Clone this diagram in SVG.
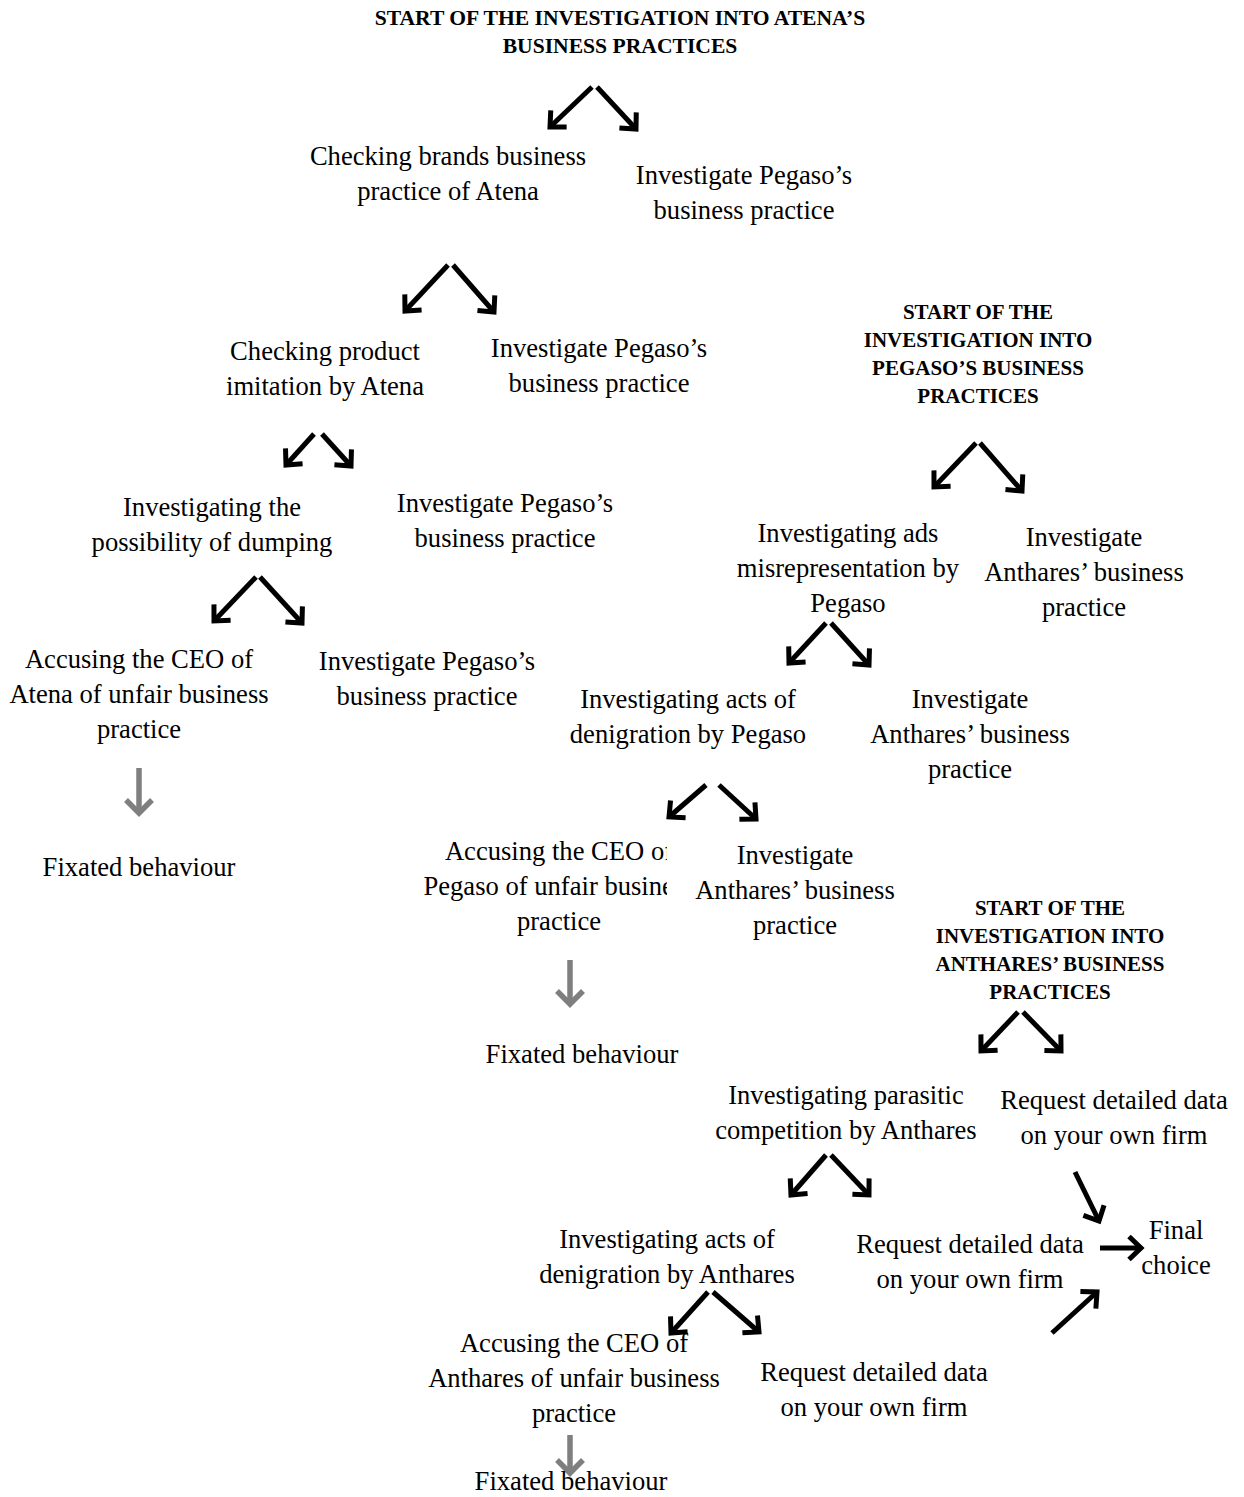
<svg xmlns="http://www.w3.org/2000/svg" width="1244" height="1497" viewBox="0 0 1244 1497">
<style>
text{font-family:"Liberation Serif","Times New Roman",serif;fill:#000;text-anchor:middle}
.t{font-size:26.6px}
.h{font-size:21px;font-weight:bold}
.a{stroke:#000;stroke-width:5;fill:none;stroke-linecap:butt}
.g{stroke:#7f7f7f;stroke-width:5.5;fill:none}
</style>
<defs>
<marker id="ah" markerUnits="userSpaceOnUse" markerWidth="30" markerHeight="30" refX="15" refY="15" orient="auto" viewBox="0 0 30 30">
<path d="M3,3.5 L15,15 L3,26.5" stroke="#000" stroke-width="5" fill="none" stroke-linejoin="miter"/>
</marker>
<marker id="ahg" markerUnits="userSpaceOnUse" markerWidth="30" markerHeight="30" refX="15" refY="15" orient="auto" viewBox="0 0 30 30">
<path d="M2,2 L15,15 L2,28" stroke="#7f7f7f" stroke-width="5.5" fill="none"/>
</marker>
<clipPath id="clipP"><rect x="0" y="830" width="667" height="110"/></clipPath>
</defs>

<g id="connectors">
<path class="a" marker-end="url(#ah)" d="M592,87 L550,127"/>
<path class="a" marker-end="url(#ah)" d="M597,87 L636,129"/>
<path class="a" marker-end="url(#ah)" d="M448,265 L405,311"/>
<path class="a" marker-end="url(#ah)" d="M453,265 L494,312"/>
<path class="a" marker-end="url(#ah)" d="M314,434 L286,465"/>
<path class="a" marker-end="url(#ah)" d="M322,434 L351,466"/>
<path class="a" marker-end="url(#ah)" d="M256,577 L214,621"/>
<path class="a" marker-end="url(#ah)" d="M260,577 L302,623"/>
<path class="a" marker-end="url(#ah)" d="M976,443 L934,487"/>
<path class="a" marker-end="url(#ah)" d="M980,443 L1022,491"/>
<path class="a" marker-end="url(#ah)" d="M826,623 L789,663"/>
<path class="a" marker-end="url(#ah)" d="M831,623 L869,665"/>
<path class="a" marker-end="url(#ah)" d="M706,785 L669,817"/>
<path class="a" marker-end="url(#ah)" d="M719,785 L756,819"/>
<path class="a" marker-end="url(#ah)" d="M1018,1012 L981,1051"/>
<path class="a" marker-end="url(#ah)" d="M1023,1012 L1061,1051"/>
<path class="a" marker-end="url(#ah)" d="M826,1155 L791,1195"/>
<path class="a" marker-end="url(#ah)" d="M831,1155 L869,1195"/>
<path class="a" marker-end="url(#ah)" d="M708,1292 L671,1333"/>
<path class="a" marker-end="url(#ah)" d="M713,1292 L759,1332"/>
<path class="a" marker-end="url(#ah)" d="M1075,1172 L1099,1221"/>
<path class="a" marker-end="url(#ah)" d="M1100,1248 L1141,1248"/>
<path class="a" marker-end="url(#ah)" d="M1052,1333 L1097,1292"/>
<path class="g" marker-end="url(#ahg)" d="M139,768 L139,813"/>
<path class="g" marker-end="url(#ahg)" d="M570,960 L570,1004"/>
<path class="g" marker-end="url(#ahg)" d="M570,1435 L570,1473"/>
</g>

<g id="n-start-atena"><text class="h" x="620" y="25" style="font-size:21.6px">START OF THE INVESTIGATION INTO ATENA’S</text><text class="h" x="620" y="53" style="font-size:21.6px">BUSINESS PRACTICES</text></g>
<g id="n-brands"><text class="t" x="448" y="165">Checking brands business</text><text class="t" x="448" y="200">practice of Atena</text></g>
<g id="n-peg1"><text class="t" x="744" y="184">Investigate Pegaso’s</text><text class="t" x="744" y="219">business practice</text></g>
<g id="n-imitation"><text class="t" x="325" y="360">Checking product</text><text class="t" x="325" y="395">imitation by Atena</text></g>
<g id="n-peg2"><text class="t" x="599" y="357">Investigate Pegaso’s</text><text class="t" x="599" y="392">business practice</text></g>
<g id="n-start-pegaso"><text class="h" x="978" y="319">START OF THE</text><text class="h" x="978" y="347">INVESTIGATION INTO</text><text class="h" x="978" y="375">PEGASO’S BUSINESS</text><text class="h" x="978" y="403">PRACTICES</text></g>
<g id="n-dumping"><text class="t" x="212" y="516">Investigating the</text><text class="t" x="212" y="551">possibility of dumping</text></g>
<g id="n-peg3"><text class="t" x="505" y="512">Investigate Pegaso’s</text><text class="t" x="505" y="547">business practice</text></g>
<g id="n-ads"><text class="t" x="848" y="542">Investigating ads</text><text class="t" x="848" y="577">misrepresentation by</text><text class="t" x="848" y="612">Pegaso</text></g>
<g id="n-anth1"><text class="t" x="1084" y="546">Investigate</text><text class="t" x="1084" y="581">Anthares’ business</text><text class="t" x="1084" y="616">practice</text></g>
<g id="n-accuse-atena"><text class="t" x="139" y="668">Accusing the CEO of</text><text class="t" x="139" y="703">Atena of unfair business</text><text class="t" x="139" y="738">practice</text></g>
<g id="n-peg4"><text class="t" x="427" y="670">Investigate Pegaso’s</text><text class="t" x="427" y="705">business practice</text></g>
<g id="n-denig-peg"><text class="t" x="688" y="708">Investigating acts of</text><text class="t" x="688" y="743">denigration by Pegaso</text></g>
<g id="n-anth2"><text class="t" x="970" y="708">Investigate</text><text class="t" x="970" y="743">Anthares’ business</text><text class="t" x="970" y="778">practice</text></g>
<g id="n-fix1"><text class="t" x="139" y="876">Fixated behaviour</text></g>
<g id="n-accuse-peg" clip-path="url(#clipP)"><text class="t" x="559" y="860">Accusing the CEO of</text><text class="t" x="559" y="895">Pegaso of unfair business</text><text class="t" x="559" y="930">practice</text></g>
<g id="n-anth3"><text class="t" x="795" y="864">Investigate</text><text class="t" x="795" y="899">Anthares’ business</text><text class="t" x="795" y="934">practice</text></g>
<g id="n-start-anth"><text class="h" x="1050" y="915">START OF THE</text><text class="h" x="1050" y="943">INVESTIGATION INTO</text><text class="h" x="1050" y="971">ANTHARES’ BUSINESS</text><text class="h" x="1050" y="999">PRACTICES</text></g>
<g id="n-fix2"><text class="t" x="582" y="1063">Fixated behaviour</text></g>
<g id="n-parasitic"><text class="t" x="846" y="1104">Investigating parasitic</text><text class="t" x="846" y="1139">competition by Anthares</text></g>
<g id="n-req1"><text class="t" x="1114" y="1109">Request detailed data</text><text class="t" x="1114" y="1144">on your own firm</text></g>
<g id="n-final"><text class="t" x="1176" y="1239">Final</text><text class="t" x="1176" y="1274">choice</text></g>
<g id="n-req2"><text class="t" x="970" y="1253">Request detailed data</text><text class="t" x="970" y="1288">on your own firm</text></g>
<g id="n-denig-anth"><text class="t" x="667" y="1248">Investigating acts of</text><text class="t" x="667" y="1283">denigration by Anthares</text></g>
<g id="n-accuse-anth"><text class="t" x="574" y="1352">Accusing the CEO of</text><text class="t" x="574" y="1387">Anthares of unfair business</text><text class="t" x="574" y="1422">practice</text></g>
<g id="n-req3"><text class="t" x="874" y="1381">Request detailed data</text><text class="t" x="874" y="1416">on your own firm</text></g>
<g id="n-fix3"><text class="t" x="571" y="1490">Fixated behaviour</text></g>
</svg>
